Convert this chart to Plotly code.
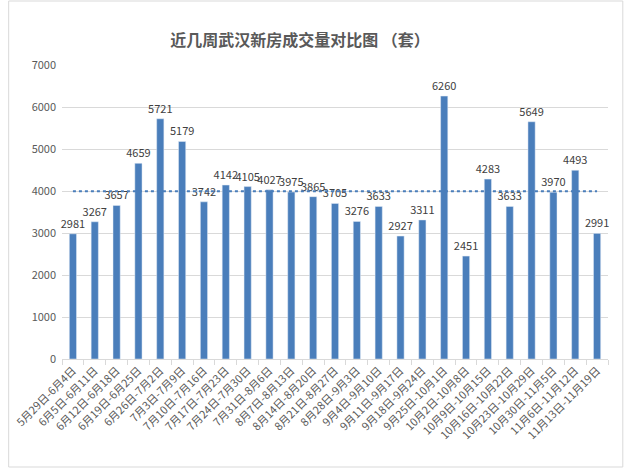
import plotly.graph_objects as go

weeks = ["5月29日-6月4日", "6月5日-6月11日", "6月12日-6月18日", "6月19日-6月25日",
         "6月26日-7月2日", "7月3日-7月9日", "7月10日-7月16日", "7月17日-7月23日",
         "7月24日-7月30日", "7月31日-8月6日", "8月7日-8月13日", "8月14日-8月20日",
         "8月21日-8月27日", "8月28日-9月3日", "9月4日-9月10日", "9月11日-9月17日",
         "9月18日-9月24日", "9月25日-10月1日", "10月2日-10月8日", "10月9日-10月15日",
         "10月16日-10月22日", "10月23日-10月29日", "10月30日-11月5日", "11月6日-11月12日",
         "11月13日-11月19日"]
sales = [2981, 3267, 3657, 4659, 5721, 5179, 3742, 4142, 4105, 4027, 3975, 3865,
         3705, 3276, 3633, 2927, 3311, 6260, 2451, 4283, 3633, 5649, 3970, 4493, 2991]
average = [3996] * len(weeks)

W, H = 625, 470
ml, mr, mt, mb = 55, 17, 65, 111

fig = go.Figure()
fig.add_trace(go.Bar(
    x=weeks, y=sales, marker_color="#4a7ebb", width=0.33,
    text=[str(v) for v in sales], textposition="outside", constraintext="none",
    textfont=dict(size=11, color="#404040", family="Noto Sans CJK SC"),
    cliponaxis=False, showlegend=False,
))
fig.add_trace(go.Scatter(
    x=weeks, y=average, mode="lines",
    line=dict(color="#4a7ebb", width=2, dash="dot"), showlegend=False,
))

fig.update_layout(
    width=W, height=H,
    margin=dict(l=ml, r=mr, t=mt, b=mb),
    paper_bgcolor="white", plot_bgcolor="white",
    font=dict(family="Noto Sans CJK SC", color="#595959"),
    title=dict(text="<b>近几周武汉新房成交量对比图 （套）</b>", x=0.48, xanchor="center",
               y=1 - 40 / H, yanchor="middle",
               font=dict(size=16, color="#595959", family="Noto Sans CJK SC")),
    xaxis=dict(tickangle=-45, tickfont=dict(size=11, color="#595959"),
               showline=True, linecolor="#d9d9d9", ticks="outside", ticklen=5,
               tickcolor="#d9d9d9", tickson="boundaries", showgrid=False),
    yaxis=dict(range=[0, 7000], dtick=1000, showgrid=True, gridcolor="#d9d9d9",
               zeroline=False, tickfont=dict(size=11, color="#595959"),
               ticksuffix="  "),
    bargap=0.67,
)

pw = W - ml - mr
ph = H - mt - mb
def px(x):
    return (x - ml) / pw
def py(y):
    return (H - mb - y) / ph
fig.add_shape(type="rect", xref="paper", yref="paper",
              x0=px(1), x1=px(W - 2), y0=py(1), y1=py(H - 3),
              line=dict(color="#d9d9d9", width=1))

fig.write_html("out.html")
